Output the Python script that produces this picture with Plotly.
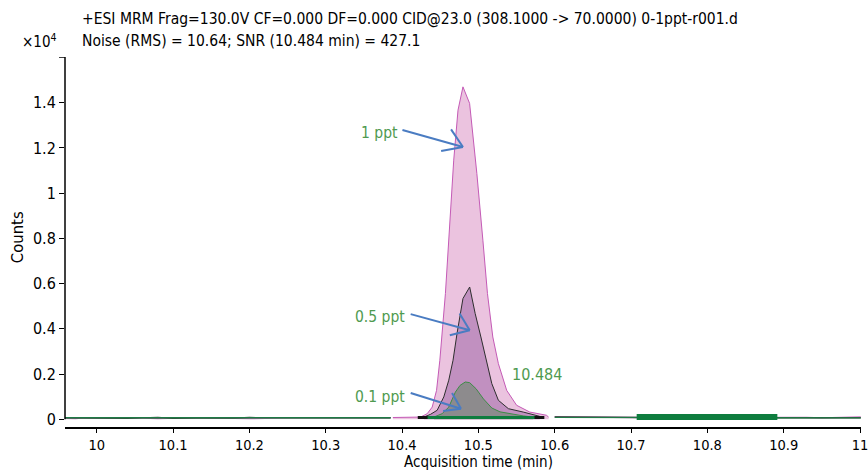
import plotly.graph_objects as go

# ---------------- data ----------------
# peak region, 1 ppt (time in min, counts x10^4)
t_peak_1ppt = [10.388, 10.405, 10.4243, 10.4330, 10.4395, 10.4452, 10.4495, 10.4568, 10.4625, 10.4677,
               10.4733, 10.4798, 10.4885, 10.4980, 10.5059, 10.5119, 10.5189, 10.5262, 10.5371,
               10.5501, 10.5674, 10.5891, 10.592]
v_peak_1ppt = [0.008, 0.008, 0.010, 0.025, 0.054, 0.128, 0.261, 0.556, 0.851, 1.146,
               1.367, 1.470, 1.397, 1.087, 0.792, 0.556, 0.364, 0.246, 0.128,
               0.062, 0.032, 0.018, 0.010]

t_peak_05ppt = [10.4287, 10.4373, 10.4460, 10.4547, 10.4612, 10.4668, 10.4720, 10.4763, 10.4798, 10.4886,
                10.4958, 10.5033, 10.5102, 10.5176, 10.5262, 10.5393, 10.5588, 10.5804]
v_peak_05ppt = [0.010, 0.022, 0.040, 0.099, 0.173, 0.261, 0.379, 0.468, 0.534, 0.585,
                0.468, 0.364, 0.261, 0.158, 0.084, 0.047, 0.032, 0.013]

t_peak_01ppt = [10.4417, 10.4525, 10.4612, 10.4698, 10.4760, 10.4828, 10.4886, 10.4970, 10.5067, 10.5176,
                10.5284, 10.5414, 10.5588, 10.5718]
v_peak_01ppt = [0.010, 0.025, 0.054, 0.120, 0.150, 0.165, 0.162, 0.135, 0.090, 0.050,
                0.033, 0.024, 0.015, 0.010]

# baseline outside the peak
t_base_left = [9.958, 9.972, 9.985, 10.0, 10.02, 10.04, 10.06, 10.08, 10.10, 10.12, 10.14, 10.16,
               10.18, 10.20, 10.25, 10.30, 10.35, 10.385]
v_base_left_1ppt = [0.004, 0.003, 0.006, 0.006, 0.007, 0.006, 0.005, 0.003, 0.006, 0.006, 0.007, 0.006,
                    0.004, 0.003, 0.006, 0.006, 0.006, 0.007]
v_base_left_05ppt = [0.007, 0.006, 0.007, 0.007, 0.005, 0.004, 0.006, 0.008, 0.004, 0.006, 0.005, 0.007,
                     0.005, 0.008, 0.006, 0.006, 0.006, 0.007]
v_base_left_01ppt = [0.007, 0.007, 0.007, 0.007, 0.007, 0.006, 0.007, 0.007, 0.007, 0.007, 0.006, 0.007,
                     0.007, 0.007, 0.007, 0.007, 0.007, 0.007]

t_base_right = [10.60, 10.63, 10.66, 10.70, 10.75, 10.80, 10.85, 10.89, 10.91, 10.93, 10.95, 10.97,
                10.99, 11.001]
v_base_right_1ppt = [0.012, 0.010, 0.009, 0.008, 0.007, 0.007, 0.007, 0.008, 0.010, 0.009, 0.006, 0.007,
                     0.010, 0.011]
v_base_right_05ppt = [0.011, 0.011, 0.010, 0.009, 0.007, 0.007, 0.007, 0.007, 0.007, 0.007, 0.007, 0.007,
                      0.007, 0.007]
v_base_right_01ppt = [0.009, 0.009, 0.009, 0.008, 0.007, 0.007, 0.007, 0.007, 0.007, 0.006, 0.006, 0.006,
                      0.006, 0.006]

# integration markers
integ_peak = [10.427, 10.580]
integ_peak_level = 0.008
integ_noise = [10.7074, 10.8917]
integ_noise_level = 0.010

peak_rt = 10.484
x_ticks = [10.0, 10.1, 10.2, 10.3, 10.4, 10.5, 10.6, 10.7, 10.8, 10.9, 11.0]
x_ticktext = ["10", "10.1", "10.2", "10.3", "10.4", "10.5", "10.6", "10.7", "10.8", "10.9", "11"]
y_ticks = [0, 0.2, 0.4, 0.6, 0.8, 1.0, 1.2, 1.4]
y_ticktext = ["0", "0.2", "0.4", "0.6", "0.8", "1", "1.2", "1.4"]

labels = ["1 ppt", "0.5 ppt", "0.1 ppt"]
# ---------------- styling ----------------
FONT = "DejaVu Sans Condensed, Liberation Sans Narrow, Liberation Sans, sans-serif"
GREEN_TXT = "#4f9a50"
ARROW = "#4a7cc2"
X_RANGE = [9.9584, 11.0013]
Y_RANGE = [-0.034, 1.602]

fig = go.Figure()

# filled peaks
fig.add_trace(go.Scatter(x=t_peak_1ppt, y=v_peak_1ppt, mode="lines", fill="tozeroy",
                         fillcolor="#ebc3df", line=dict(color="#c45ab6", width=1)))
fig.add_trace(go.Scatter(x=t_peak_05ppt, y=v_peak_05ppt, mode="lines", fill="tozeroy",
                         fillcolor="#c190c0", line=dict(color="#2e2e2e", width=1)))
fig.add_trace(go.Scatter(x=t_peak_01ppt, y=v_peak_01ppt, mode="lines", fill="tozeroy",
                         fillcolor="#8d8b8d", line=dict(color="#3d8c46", width=1)))

# baselines
for vl, vr, col in [(v_base_left_1ppt, v_base_right_1ppt, "#cf6fc0"),
                    (v_base_left_05ppt, v_base_right_05ppt, "#3a3a3a"),
                    (v_base_left_01ppt, v_base_right_01ppt, "#1f7a45")]:
    fig.add_trace(go.Scatter(x=t_base_left, y=vl, mode="lines", line=dict(color=col, width=1.3)))
    fig.add_trace(go.Scatter(x=t_base_right, y=vr, mode="lines", line=dict(color=col, width=1.3)))

# integration bars
fig.add_trace(go.Scatter(x=integ_peak, y=[integ_peak_level, integ_peak_level], mode="lines",
                         line=dict(color="#0e7d3e", width=3)))
fig.add_trace(go.Scatter(x=integ_peak, y=[integ_peak_level, integ_peak_level], mode="markers",
                         marker=dict(symbol="line-ew", size=7, line=dict(color="#111", width=3))))
fig.add_trace(go.Scatter(x=integ_noise, y=[integ_noise_level, integ_noise_level], mode="lines",
                         line=dict(color="#0e7d3e", width=6)))

# arrows (shaft + open head), data coordinates
arrows = [
    ((10.4005, 1.279), (10.4798, 1.204), (10.4642, 1.282), (10.4512, 1.186)),
    ((10.4113, 0.465), (10.4886, 0.394), (10.4754, 0.468), (10.4626, 0.372)),
    ((10.4113, 0.116), (10.4772, 0.047), (10.4655, 0.116), (10.4538, 0.037)),
]
shapes = []
for tail, tip, a1, a2 in arrows:
    for p in (tail, a1, a2):
        shapes.append(dict(type="line", xref="x", yref="y", x0=p[0], y0=p[1], x1=tip[0], y1=tip[1],
                           line=dict(color=ARROW, width=2)))
# y axis line (from 0 to top) and top cap tick
shapes.append(dict(type="line", xref="paper", yref="y", x0=0, x1=0, y0=0, y1=Y_RANGE[1],
                   line=dict(color="black", width=1.5)))
shapes.append(dict(type="line", xref="paper", yref="y", xsizemode="pixel", xanchor=0,
                   x0=-6, x1=0, y0=Y_RANGE[1], y1=Y_RANGE[1], line=dict(color="black", width=1.5)))

annotations = []
label_pos = [(10.3953, 1.265), (10.4044, 0.453), (10.4044, 0.099)]
for lab, (x, y) in zip(labels, label_pos):
    annotations.append(dict(x=x, y=y, xref="x", yref="y", xshift=2, text=lab, showarrow=False,
                            xanchor="right", yanchor="middle",
                            font=dict(family=FONT, size=15.5, color=GREEN_TXT)))
annotations.append(dict(x=10.5764, y=0.196, xref="x", yref="y", text=f"{peak_rt:.3f}", showarrow=False,
                        xanchor="center", yanchor="middle",
                        font=dict(family=FONT, size=16, color=GREEN_TXT)))
annotations.append(dict(x=0, y=1, xref="paper", yref="paper", xshift=15, yshift=38,
                        text="+ESI MRM Frag=130.0V CF=0.000 DF=0.000 CID@23.0 (308.1000 -> 70.0000) 0-1ppt-r001.d",
                        showarrow=False, xanchor="left", yanchor="middle",
                        font=dict(family=FONT, size=15.5, color="black")))
annotations.append(dict(x=0, y=1, xref="paper", yref="paper", xshift=15, yshift=16.5,
                        text=f"Noise (RMS) = 10.64; SNR ({peak_rt:.3f} min) = 427.1",
                        showarrow=False, xanchor="left", yanchor="middle",
                        font=dict(family=FONT, size=15.5, color="black")))
annotations.append(dict(x=0, y=1, xref="paper", yref="paper", xshift=-6, yshift=16.5,
                        text="×10<sup>4</sup>", showarrow=False, xanchor="right", yanchor="middle",
                        font=dict(family=FONT, size=15, color="black")))
annotations.append(dict(x=0, y=0.513, xref="paper", yref="paper", xshift=-48, text="Counts",
                        textangle=-90, showarrow=False, xanchor="center", yanchor="middle",
                        font=dict(family=FONT, size=16.5, color="black")))
annotations.append(dict(x=10.5, y=0, xref="x", yref="paper", yshift=-45, text="Acquisition time (min)",
                        showarrow=False, xanchor="center", yanchor="bottom", borderpad=0,
                        font=dict(family=FONT, size=15, color="black")))

fig.update_layout(
    width=868, height=472,
    margin=dict(l=65, r=0, t=57, b=45),
    paper_bgcolor="white", plot_bgcolor="white",
    showlegend=False,
    shapes=shapes, annotations=annotations,
    font=dict(family=FONT, color="black"),
)
fig.update_xaxes(range=X_RANGE, tickvals=x_ticks, ticktext=x_ticktext, ticks="outside", ticklen=4,
                 tickwidth=1.3, tickcolor="black", showline=True, linecolor="black", linewidth=1.5,
                 showgrid=False, zeroline=False, ticklabeloverflow="allow",
                 tickfont=dict(family=FONT, size=14.5, color="black"))
fig.update_yaxes(range=Y_RANGE, tickvals=y_ticks, ticktext=y_ticktext, ticks="outside", ticklen=5,
                 tickwidth=1.3, tickcolor="black", showline=False, showgrid=False, zeroline=False,
                 tickfont=dict(family=FONT, size=16, color="black"))

fig.write_html("out.html")
